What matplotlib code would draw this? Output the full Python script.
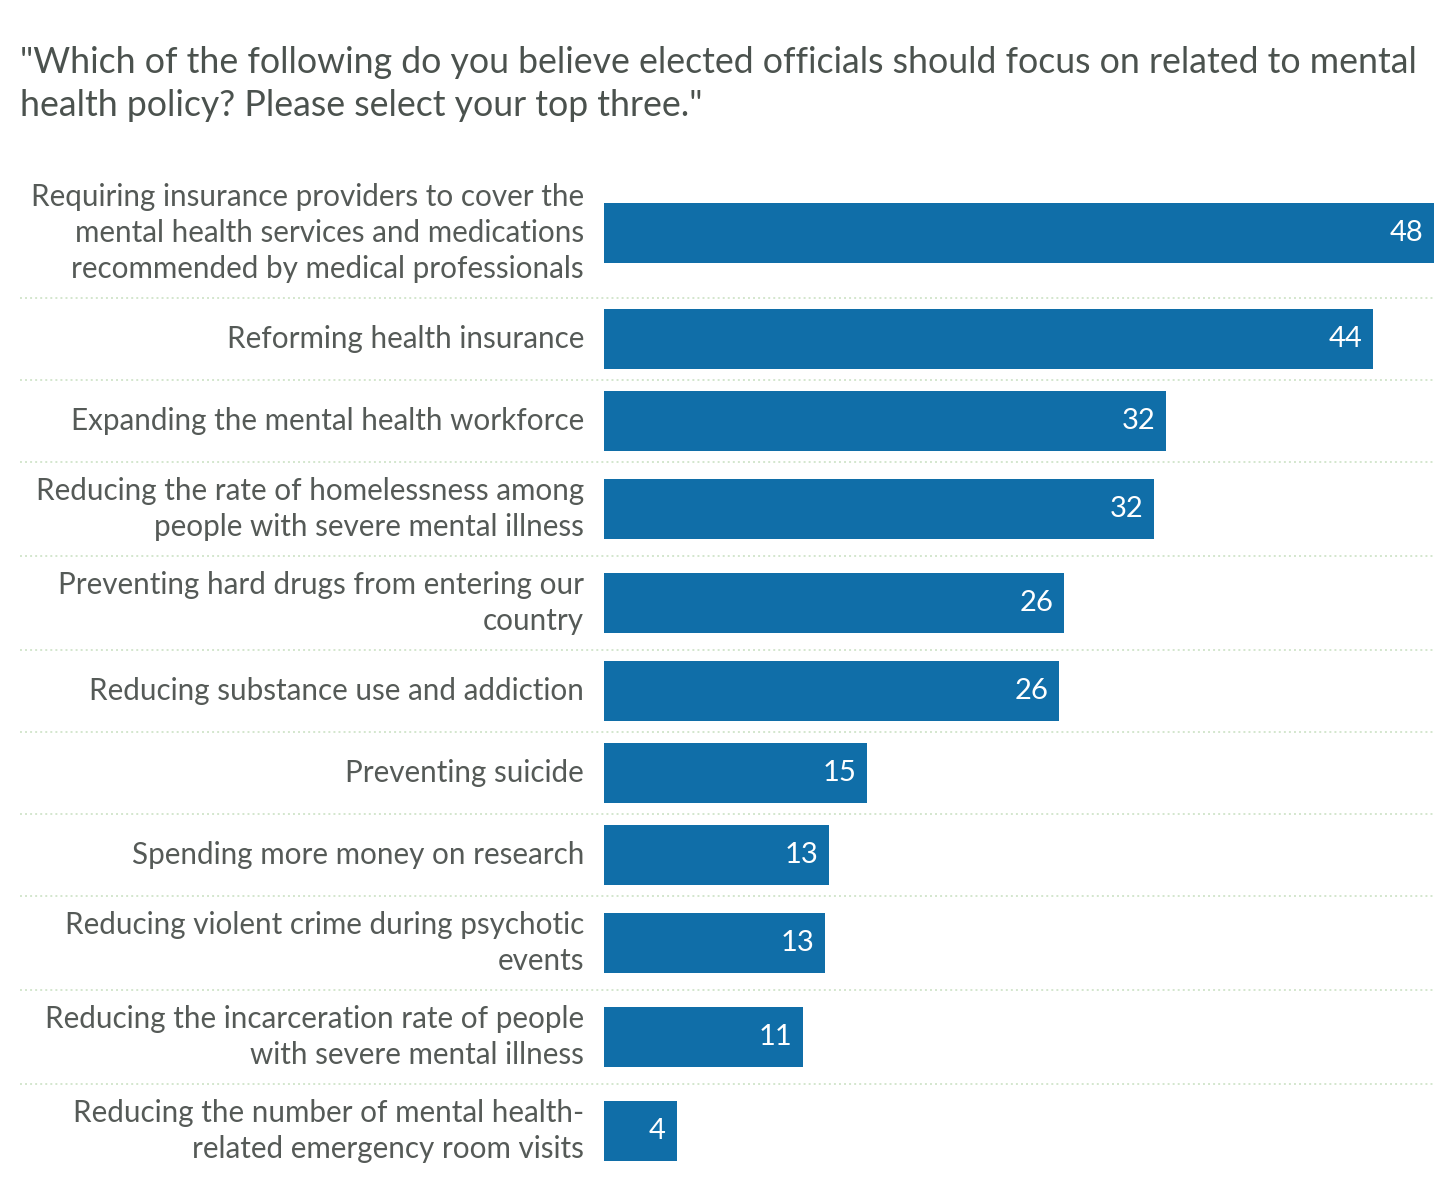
import matplotlib
matplotlib.use("Agg")
import matplotlib.pyplot as plt

plt.rcParams['font.family'] = ['Lato', 'DejaVu Sans']

labels = [
    "Requiring insurance providers to cover the\nmental health services and medications\nrecommended by medical professionals",
    "Reforming health insurance",
    "Expanding the mental health workforce",
    "Reducing the rate of homelessness among\npeople with severe mental illness",
    "Preventing hard drugs from entering our\ncountry",
    "Reducing substance use and addiction",
    "Preventing suicide",
    "Spending more money on research",
    "Reducing violent crime during psychotic\nevents",
    "Reducing the incarceration rate of people\nwith severe mental illness",
    "Reducing the number of mental health-\nrelated emergency room visits",
]
values = [48.0, 44.5, 32.5, 31.8, 26.6, 26.3, 15.2, 13.0, 12.8, 11.5, 4.2]
value_labels = ["48", "44", "32", "32", "26", "26", "15", "13", "13", "11", "4"]

title = ('"Which of the following do you believe elected officials should focus on related to mental\n'
         'health policy? Please select your top three."')

W, H = 1456, 1188
BAR = "#106ea8"
TXT = "#555a57"
SEP = "#d3e6cd"

fig = plt.figure(figsize=(W / 100, H / 100), dpi=100)
x0, x1 = 604, 1434
ax = fig.add_axes([x0 / W, 0, (x1 - x0) / W, 1])
ax.set_xlim(0, max(values))
ax.set_ylim(H, 0)
ax.axis("off")

# row layout depends on how many lines the label has
row_h = {1: 82, 2: 94, 3: 130}
top = 168
centers, bottoms = [], []
for lab in labels:
    h = row_h[lab.count("\n") + 1]
    centers.append(top + h / 2)
    bottoms.append(top + h)
    top += h

ax.barh(centers, values, height=60, color=BAR)

tr = ax.get_yaxis_transform()
lx = (584 - x0) / (x1 - x0)
sx = (20 - x0) / (x1 - x0)
for c, lab, v, vl in zip(centers, labels, values, value_labels):
    ax.text(lx, c, lab, transform=tr, ha="right", va="center", fontsize=21.3,
            color=TXT, linespacing=1.36)
    ax.text(v - 0.62, c, vl, ha="right", va="center", fontsize=21, color="white")

for b in bottoms[:-1]:
    ax.plot([sx, 1], [b, b], transform=tr, color=SEP, lw=1.4,
            linestyle=(0, (1, 1.6)), clip_on=False)

fig.text(20 / W, 1 - 84 / H, title, ha="left", va="center", fontsize=25.7,
         color="#4b524e", linespacing=1.36)

fig.savefig("out.png", dpi=100, facecolor="white")
